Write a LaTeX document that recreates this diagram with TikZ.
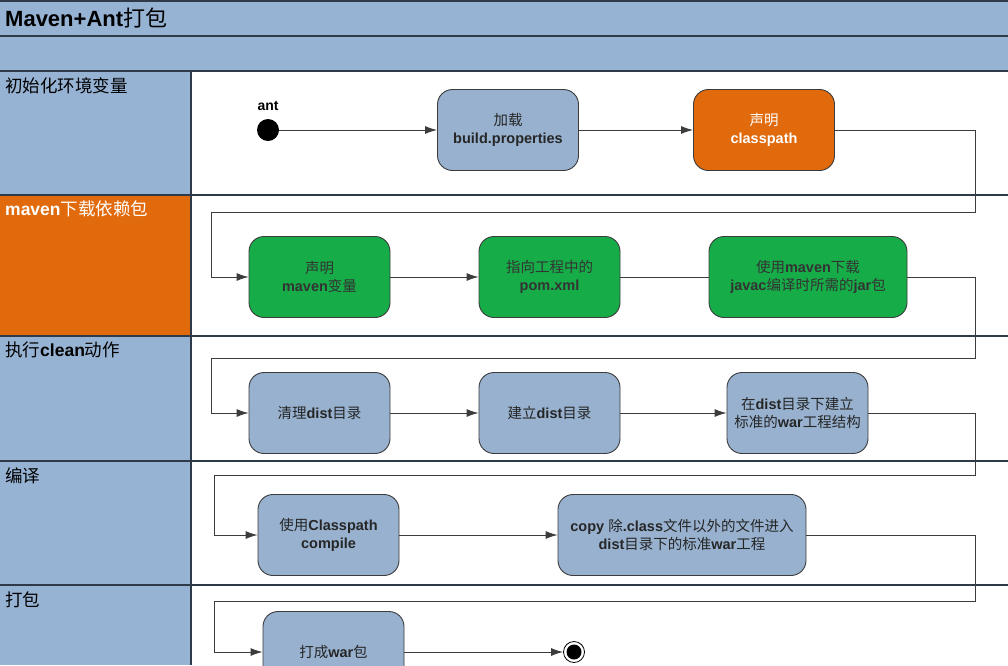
\documentclass[tikz,border=0pt]{standalone}
\usepackage{fontspec}
\setmainfont{Liberation Sans}
\newfontfamily\cjk{Noto Sans CJK SC}
\usetikzlibrary{arrows.meta}
\definecolor{laneblue}{HTML}{97B3D4}
\definecolor{nodeblue}{HTML}{97B1CF}
\definecolor{orangec}{HTML}{E06A0C}
\definecolor{greenc}{HTML}{16AC48}
\definecolor{edgec}{HTML}{3C3C3C}
\definecolor{bordc}{HTML}{2E3A48}
\tikzset{
  act/.style={draw=edgec, line width=0.9pt, rounded corners=15pt, minimum width=141pt, minimum height=81pt, align=center, font=\fontsize{14.5}{18}\selectfont, inner sep=2pt},
  bluebox/.style={act, fill=nodeblue, text=black!85},
  orangebox/.style={act, fill=orangec, text=white},
  greenbox/.style={act, fill=greenc, text=black!80},
  conn/.style={draw=edgec, line width=0.9pt},
  arr/.style={conn, -{Latex[length=12pt,width=8pt]}},
  lanelabel/.style={anchor=north west, font=\fontsize{17.5}{20}\selectfont, inner sep=0pt},
  lanel/.style={draw=bordc, line width=1.2pt}
}
\newcommand{\cj}[1]{{\cjk #1}}
\begin{document}
\begin{tikzpicture}[x=1pt,y=-1pt]
\useasboundingbox (0,0) rectangle (1008,665);
% backgrounds
\fill[white] (0,0) rectangle (1008,665);
\fill[laneblue] (0,0) rectangle (1008,71);
\fill[laneblue] (0,71) rectangle (191,195);
\fill[orangec] (0,195) rectangle (191,336);
\fill[laneblue] (0,336) rectangle (191,665);
% lane lines
\draw[lanel] (0,1) -- (1008,1);
\draw[lanel] (0,36) -- (1008,36);
\draw[lanel] (0,71) -- (1008,71);
\draw[lanel] (0,195) -- (1008,195);
\draw[lanel] (0,336) -- (1008,336);
\draw[lanel] (0,461) -- (1008,461);
\draw[lanel] (0,585) -- (1008,585);
\draw[lanel] (191,71) -- (191,665);
% titles
\node[anchor=west, inner sep=0pt, font=\fontsize{22}{24}\selectfont] (title) at (5,18) {\textbf{Maven+Ant}\cj{打包}};
\node[lanelabel] (l1) at (5,77) {\cj{初始化环境变量}};
\node[lanelabel, text=white] (l2) at (5,201) {\textbf{maven}\cj{下载依赖包}};
\node[lanelabel] (l3) at (5,342) {\cj{执行}\textbf{clean}\cj{动作}};
\node[lanelabel] (l4) at (5,467) {\cj{编译}};
\node[lanelabel] (l5) at (5,591) {\cj{打包}};
% lane 1
\node[circle, fill=black, minimum size=22pt, inner sep=0pt] (start) at (268,130) {};
\node[font=\fontsize{14}{16}\selectfont\bfseries, inner sep=0pt] (antl) at (268,106) {ant};
\node[bluebox] (load) at (508,130) {\cj{加载}\\\textbf{build.properties}};
\node[orangebox] (cp) at (764,130) {\cj{声明}\\\textbf{classpath}};
% lane 2
\node[greenbox] (mv) at (319.5,277) {\cj{声明}\\\textbf{maven}\cj{变量}};
\node[greenbox] (pom) at (549.5,277) {\cj{指向工程中的}\\\textbf{pom.xml}};
\node[greenbox, minimum width=198pt] (jar) at (808,277) {\cj{使用}\textbf{maven}\cj{下载}\\\textbf{javac}\cj{编译时所需的}\textbf{jar}\cj{包}};
% lane 3
\node[bluebox] (clean) at (319.5,413) {\cj{清理}\textbf{dist}\cj{目录}};
\node[bluebox] (mk) at (549.5,413) {\cj{建立}\textbf{dist}\cj{目录}};
\node[bluebox] (war) at (797.5,413) {\cj{在}\textbf{dist}\cj{目录下建立}\\\cj{标准的}\textbf{war}\cj{工程结构}};
% lane 4
\node[bluebox] (comp) at (328.5,535) {\cj{使用}\textbf{Classpath}\\\textbf{compile}};
\node[bluebox, minimum width=248pt] (copy) at (682,535) {\textbf{copy} \cj{除}\textbf{.class}\cj{文件以外的文件进入}\\\textbf{dist}\cj{目录下的标准}\textbf{war}\cj{工程}};
% lane 5
\node[bluebox] (pack) at (333.5,652) {\cj{打成}\textbf{war}\cj{包}};
\node[circle, draw=black, line width=0.8pt, fill=white, minimum size=21pt, inner sep=0pt] (end) at (574,652) {};
\fill[black] (end.center) circle (7.5pt);
% connectors
\draw[arr] (start) -- (load);
\draw[arr] (load) -- (cp);
\draw[arr] (cp.east) -- (975,130) -- (975,212) -- (211,212) -- (211,277) -- (mv.west);
\draw[arr] (mv) -- (pom);
\draw[conn] (pom) -- (jar);
\draw[arr] (jar.east) -- (975,277) -- (975,358) -- (211,358) -- (211,413) -- (clean.west);
\draw[arr] (clean) -- (mk);
\draw[arr] (mk) -- (war);
\draw[arr] (war.east) -- (975,413) -- (975,475) -- (214,475) -- (214,535) -- (comp.west);
\draw[arr] (comp) -- (copy);
\draw[arr] (copy.east) -- (975,535) -- (975,601) -- (214,601) -- (214,652) -- (pack.west);
\draw[arr] (pack) -- (end);
\end{tikzpicture}
\end{document}
